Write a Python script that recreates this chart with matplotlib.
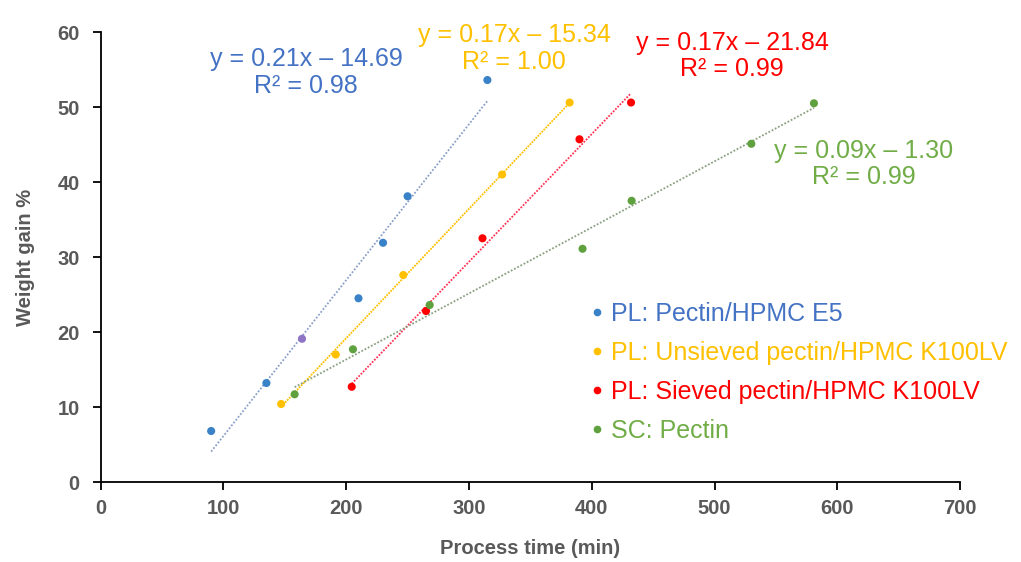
import numpy as np
import matplotlib.pyplot as plt
from matplotlib.lines import Line2D

# data
pl_e5_x = [90, 135, 164, 210, 230, 250, 315]
pl_e5_y = [6.8, 13.2, 19.1, 24.5, 31.9, 38.1, 53.6]

pl_unsieved_x = [147, 191.5, 246.5, 327, 382]
pl_unsieved_y = [10.4, 17.0, 27.6, 41.0, 50.6]

pl_sieved_x = [204.5, 265, 311, 390, 432]
pl_sieved_y = [12.7, 22.8, 32.5, 45.7, 50.6]

sc_pectin_x = [158, 205.5, 268, 392.5, 432.5, 530, 581]
sc_pectin_y = [11.7, 17.7, 23.6, 31.1, 37.5, 45.1, 50.5]

labels = ['PL: Pectin/HPMC E5', 'PL: Unsieved pectin/HPMC K100LV',
          'PL: Sieved pectin/HPMC K100LV', 'SC: Pectin']
equations = ['y = 0.21x \u2013 14.69\nR\u00b2 = 0.98',
             'y = 0.17x \u2013 15.34\nR\u00b2 = 1.00',
             'y = 0.17x \u2013 21.84\nR\u00b2 = 0.99',
             'y = 0.09x \u2013 1.30\nR\u00b2 = 0.99']

plt.rcParams['font.family'] = ['Liberation Sans', 'DejaVu Sans']
narrow = ['Liberation Sans Narrow', 'Liberation Sans', 'DejaVu Sans']
gray = '#595959'

fig = plt.figure(figsize=(10.21, 5.62), dpi=100)
ax = fig.add_axes([0.0986, 0.1423, 0.8417, 0.8007])

series = [(pl_e5_x, pl_e5_y), (pl_unsieved_x, pl_unsieved_y),
          (pl_sieved_x, pl_sieved_y), (sc_pectin_x, sc_pectin_y)]
pt_colors = ['#3a82c8', '#ffc000', '#ff0000', '#5fa13e']
txt_colors = ['#4472c4', '#ffc000', '#ff0000', '#70ad47']
line_colors = ['#8a9fc8', '#ffc000', '#ff3355', '#8aa080']
line_styles = [(0, (1, 1)), (0, (1, 0.6)), (0, (1, 0.8)), (0, (1, 1))]
text_pos = [(167.3, 54.6), (336.7, 57.8), (514.3, 56.8), (621.8, 42.4)]

for i, (xs, ys) in enumerate(series):
    xs = np.array(xs)
    ys = np.array(ys)
    k, b = np.polyfit(xs, ys, 1)
    xx = np.array([xs.min(), xs.max()])
    ax.plot(xx, k * xx + b, color=line_colors[i], ls=line_styles[i], lw=1.3, zorder=2)
    cols = [pt_colors[i]] * len(xs)
    if i == 0:
        cols[2] = '#8f74c6'  # the odd purple-looking point
    ax.scatter(xs, ys, s=34, c=cols, zorder=3, linewidths=0)
    ax.text(text_pos[i][0], text_pos[i][1], equations[i], color=txt_colors[i],
            fontsize=18, ha='center', va='center', multialignment='center',
            linespacing=1.15, clip_on=False)

ax.set_xlim(0, 700)
ax.set_ylim(0, 60)
ax.set_xticks(range(0, 701, 100))
ax.set_yticks(range(0, 61, 10))
for s in ['top', 'right']:
    ax.spines[s].set_visible(False)
for s in ['left', 'bottom']:
    ax.spines[s].set_color('black')
    ax.spines[s].set_linewidth(1.3)
ax.tick_params(direction='out', length=6, width=1.3, colors='black', labelcolor=gray)
ax.tick_params(axis='y', pad=9)
ax.tick_params(axis='x', pad=6)
for lab in ax.get_xticklabels() + ax.get_yticklabels():
    lab.set_family(narrow)
    lab.set_fontweight('bold')
    lab.set_fontsize(14.5)

ax.set_xlabel('Process time (min)', family=narrow, fontweight='bold', fontsize=14.5, color=gray, labelpad=15)
ax.set_ylabel('Weight gain %', family=narrow, fontweight='bold', fontsize=14.5, color=gray, labelpad=16)

handles = [Line2D([], [], ls='none', marker='o', ms=4.5, color=c) for c in pt_colors]
leg = ax.legend(handles, labels, loc='upper left', bbox_to_anchor=(0.543, 0.45),
                frameon=False, fontsize=18, handlelength=0.6, handletextpad=0.25,
                labelspacing=0.6)
for t, c in zip(leg.get_texts(), txt_colors):
    t.set_color(c)

fig.savefig('out.png', dpi=100)
